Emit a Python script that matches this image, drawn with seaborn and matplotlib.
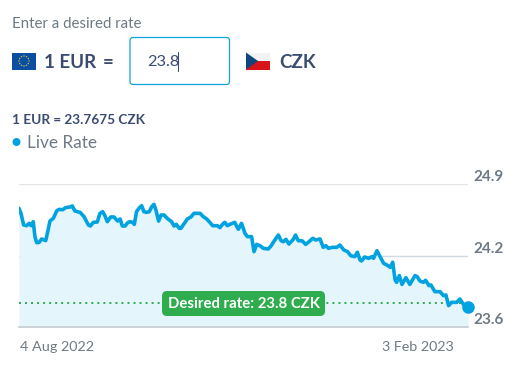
# desired rate widget, EUR to CZK live rate
import pandas as pd
import numpy as np
import seaborn as sns
import matplotlib.pyplot as plt
from matplotlib.patches import FancyBboxPatch, Rectangle, Polygon, Circle

# days since 4 Aug 2022
days = [0.0, 0.8, 1.9, 3.1, 4.1, 4.9, 5.8, 6.5, 7.2, 8.2, 9.2, 10.9, 12.0, 12.6, 14.0, 15.4, 16.4, 17.8, 19.0, 20.8,
        21.7, 22.8, 24.9, 26.5, 28.3, 29.1, 30.3, 31.9, 33.0, 34.1, 35.0, 36.0, 37.4, 38.7, 40.2, 41.2, 42.1, 43.2, 44.3,
        45.2, 46.3, 47.0, 47.9, 48.9, 50.0, 50.9, 52.0, 53.1, 54.1, 55.0, 55.8, 56.9, 57.9, 59.1, 60.4, 62.2, 63.2, 64.1,
        65.3, 66.0, 67.4, 68.6, 70.1, 71.3, 73.8, 75.1, 76.5, 77.8, 78.9, 80.8, 81.9, 83.3, 83.9, 84.9, 86.0, 87.9, 89.4,
        90.7, 92.1, 93.1, 93.9, 94.8, 95.8, 96.9, 98.2, 99.6, 101.6, 102.7, 104.1, 105.7, 106.8, 107.7, 108.8, 110.0,
        111.8, 112.7, 113.8, 115.5, 116.8, 118.2, 119.7, 120.9, 122.7, 124.0, 125.1, 126.1, 127.7, 129.5, 130.8, 132.4,
        133.9, 135.2, 136.9, 137.9, 139.0, 139.6, 140.9, 142.5, 143.8, 144.5, 145.9, 148.6, 150.0, 151.3, 152.3, 153.3,
        153.9, 155.0, 156.1, 157.7, 159.3, 161.4, 162.3, 163.4, 164.8, 165.7, 167.1, 167.9, 169.5, 171.6, 173.0, 174.0,
        175.1, 176.3, 178.4, 179.7, 181.3, 183.0]
rates = [24.682, 24.636, 24.530, 24.524, 24.545, 24.524, 24.560, 24.424, 24.369, 24.372, 24.403, 24.388, 24.500, 24.566,
         24.591, 24.660, 24.672, 24.669, 24.688, 24.694, 24.703, 24.657, 24.645, 24.606, 24.530, 24.521, 24.554, 24.557,
         24.636, 24.651, 24.615, 24.560, 24.603, 24.603, 24.566, 24.585, 24.521, 24.521, 24.551,
         24.560, 24.554, 24.536, 24.651, 24.682, 24.706, 24.651, 24.645, 24.651, 24.697, 24.718, 24.666, 24.566, 24.621,
         24.621, 24.591, 24.560, 24.521, 24.536, 24.500, 24.500, 24.545, 24.585, 24.603, 24.636, 24.636, 24.606, 24.585,
         24.554, 24.524, 24.524, 24.506, 24.545, 24.554, 24.524, 24.536, 24.554, 24.491,
         24.545, 24.454, 24.424, 24.424, 24.424, 24.288, 24.354, 24.342, 24.318, 24.312, 24.339, 24.388, 24.439, 24.388,
         24.378, 24.400, 24.357, 24.400, 24.439, 24.388, 24.385, 24.354, 24.378, 24.409, 24.394, 24.403, 24.327, 24.342,
         24.318, 24.327, 24.327, 24.348, 24.303, 24.288, 24.251, 24.242, 24.282, 24.212, 24.203, 24.239, 24.227, 24.242,
         24.227, 24.296, 24.182, 24.166, 24.145, 24.191, 24.030, 24.009, 24.070, 23.990, 24.051, 23.990, 24.070, 24.060,
         24.021, 24.009, 24.027, 23.979, 23.985, 23.924, 23.924, 23.888, 23.894, 23.797, 23.827, 23.827, 23.857, 23.803,
         23.788]
y_ticks = [23.6, 24.25, 24.9]
y_labels = ['23.6', '24.2', '24.9']
desired = 23.818
start = pd.Timestamp('2022-08-04')
end = pd.Timestamp('2023-02-03')

W, H = 517, 367
BLUE = '#00a3e0'
GREEN = '#2fac4d'
NAVY = '#3a4c72'
GRAY = '#6d7a85'

sns.set_style('white')
plt.rcParams['font.family'] = ['Lato', 'DejaVu Sans']

df = pd.DataFrame({'date': start + pd.to_timedelta(days, unit='D'), 'rate': rates})

fig = plt.figure(figsize=(W / 100, H / 100), dpi=100)
ax = fig.add_axes([19 / W, 1 - 327.3 / H, 449 / W, 143 / H])

ax.fill_between(df['date'], df['rate'], 23.6, color='#e4f5fc', lw=0, zorder=1)
ax.axhline(desired, color=GREEN, lw=1.4, ls=(0, (1, 2.1)), zorder=2)
sns.lineplot(data=df, x='date', y='rate', color=BLUE, lw=2.6, ax=ax, zorder=3, estimator=None)
ax.plot(df['date'].iloc[-1], df['rate'].iloc[-1], 'o', color=BLUE, ms=8, zorder=4, clip_on=False)

ax.set_xlim(start, end)
ax.set_ylim(23.6, 24.9)
ax.set_xlabel('')
ax.set_ylabel('')
ax.set_xticks([])
ax.yaxis.tick_right()
ax.set_yticks(y_ticks, y_labels, fontsize=11, fontweight='bold', color=GRAY, va='bottom')
ax.tick_params(axis='y', length=0, pad=4)
ax.grid(axis='y', color='#cfdbe2', lw=1, zorder=2)
ax.get_ygridlines()[2].set_color('#e3e5e7')
sns.despine(ax=ax, left=True, right=True, top=True)
ax.spines['bottom'].set_color('#c8ccd0')
ax.spines['bottom'].set_linewidth(1.2)

ax.annotate('4 Aug 2022', (0, 0), xycoords='axes fraction', xytext=(1, -10), textcoords='offset points',
            ha='left', va='top', fontsize=10.4, color=GRAY)
ax.annotate('3 Feb 2023', (1, 0), xycoords='axes fraction', xytext=(-10, -10), textcoords='offset points',
            ha='right', va='top', fontsize=10.3, color=GRAY)

# everything around the chart, in pixels
ui = fig.add_axes([0, 0, 1, 1], facecolor='none')
ui.set_xlim(0, W)
ui.set_ylim(H, 0)
ui.axis('off')

ui.text(12, 23.5, 'Enter a desired rate', fontsize=10.8, color=GRAY, va='center')

# EU flag
ui.add_patch(Rectangle((12, 52.5), 24, 17, color='#0b4ea2', lw=0))
for a in np.arange(0, 360, 30):
    ui.add_patch(Circle((24 + 5 * np.cos(np.radians(a)), 61 + 5 * np.sin(np.radians(a))), 0.7, color='#c9c63a', lw=0))
ui.text(44, 62.5, '1 EUR', fontsize=13.5, fontweight='bold', color=NAVY, va='center')
ui.text(103, 62.5, '=', fontsize=13.5, fontweight='bold', color=NAVY, va='center')

# input box
ui.add_patch(FancyBboxPatch((133, 40.5), 93.5, 41, boxstyle='round,pad=3,rounding_size=3', fc='white', ec='#0da5dd', lw=0.9))
ui.text(147, 62.5, '23.8', fontsize=11.8, color=NAVY, va='center')
ui.plot([177.5, 177.5], [52, 71], color=NAVY, lw=0.8)

# CZ flag
ui.add_patch(Rectangle((246, 52.5), 24, 8.5, color='#f3f3f3', lw=0))
ui.add_patch(Rectangle((246, 61), 24, 8.5, color='#d7141a', lw=0))
ui.add_patch(Polygon([(246, 52.5), (258, 61), (246, 69.5)], color='#11457e', lw=0))
ui.text(279, 62.5, 'CZK', fontsize=13.5, fontweight='bold', color=NAVY, va='center')

ui.text(12, 120.5, '1 EUR = 23.7675 CZK', fontsize=9.85, fontweight='bold', color=NAVY, va='center')
ui.add_patch(Circle((16.5, 142), 4, color=BLUE, lw=0))
ui.text(27, 143.5, 'Live Rate', fontsize=12.4, color=GRAY, va='center')

# desired rate badge
ui.add_patch(FancyBboxPatch((167, 296), 153, 15, boxstyle='round,pad=5,rounding_size=5', fc=GREEN, ec='none', zorder=5))
ui.text(243.5, 304, 'Desired rate: 23.8 CZK', fontsize=10.7, fontweight='bold', color='white', ha='center', va='center', zorder=6)

fig.savefig('out.png', dpi=100)
